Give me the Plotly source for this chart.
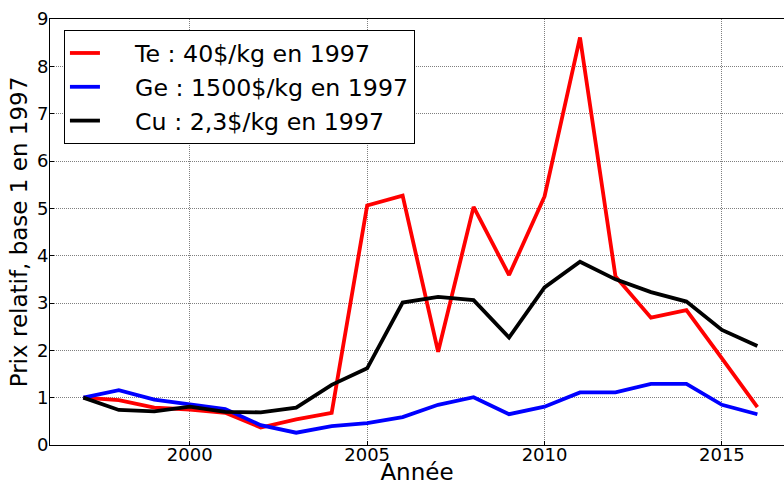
import plotly.graph_objects as go

years = list(range(1997, 2017))
te = [1.0, 0.95, 0.79, 0.75, 0.68, 0.37, 0.54, 0.68, 5.06, 5.27, 1.97, 5.03, 3.59, 5.25, 8.61, 3.56, 2.69, 2.85, 1.83, 0.80]
ge = [1.0, 1.16, 0.96, 0.87, 0.76, 0.42, 0.26, 0.40, 0.46, 0.59, 0.85, 1.01, 0.65, 0.81, 1.11, 1.11, 1.29, 1.29, 0.85, 0.65]
cu = [1.0, 0.74, 0.71, 0.81, 0.70, 0.69, 0.79, 1.27, 1.62, 3.01, 3.13, 3.06, 2.27, 3.33, 3.87, 3.50, 3.23, 3.03, 2.43, 2.09]

names = ["Te : 40$/kg en 1997", "Ge : 1500$/kg en 1997", "Cu : 2,3$/kg en 1997"]
colors = ["#ff0000", "#0000ff", "#000000"]
x_ticks = [2000, 2005, 2010, 2015]
y_ticks = list(range(0, 10))

fig = go.Figure()
for vals, name, col in zip([te, ge, cu], names, colors):
    fig.add_trace(go.Scatter(x=years, y=vals, mode="lines", name="    " + name,
                             line=dict(color=col, width=3.8)))

font = "DejaVu Sans, Liberation Sans, sans-serif"
grid_col = "rgba(0,0,0,0.5)"
fig.update_layout(
    width=784, height=485,
    margin=dict(l=50, r=0, t=19, b=40),
    paper_bgcolor="white", plot_bgcolor="white",
    font=dict(family=font, color="black", size=18),
    showlegend=True,
    legend=dict(x=0.0190, y=0.974, xanchor="left", yanchor="top",
                bgcolor="white", bordercolor="black", borderwidth=1,
                font=dict(size=23.7, family=font)),
    xaxis=dict(range=[1996.06, 2016.75], tickvals=x_ticks, ticktext=[str(v) for v in x_ticks],
               showgrid=True, gridcolor=grid_col, griddash="1px,1px", gridwidth=1,
               showline=True, linecolor="black", linewidth=1, mirror=True,
               ticks="inside", ticklen=4, tickcolor="black", zeroline=False,
               tickfont=dict(size=18), automargin=False, ticklabelstandoff=-7,
               title=dict(text="Année", font=dict(size=23), standoff=12)),
    yaxis=dict(range=[0, 9], tickvals=y_ticks,
               showgrid=True, gridcolor=grid_col, griddash="1px,1px", gridwidth=1,
               showline=True, linecolor="black", linewidth=1, mirror=False,
               ticks="inside", ticklen=4, tickcolor="black", zeroline=False,
               tickfont=dict(size=18), automargin=False, ticklabelstandoff=-3,
               title=dict(text="Prix relatif, base 1 en 1997", font=dict(size=23), standoff=2)),
)
fig.write_html("out.html", config={"displayModeBar": False},
               post_script="document.body.style.margin='0';")
